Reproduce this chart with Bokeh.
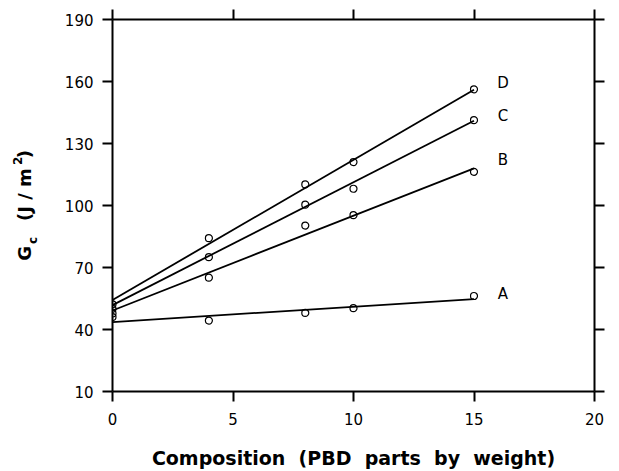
import math
from bokeh.plotting import figure
from bokeh.models import LinearAxis, FixedTicker, Label, Range1d
from bokeh.layouts import row
from bokeh.core.properties import value
from bokeh.embed import file_html
from bokeh.resources import INLINE

# ---- data ----
series = ["A", "B", "C", "D"]
x_vals = [0, 4, 8, 10, 15]
y_A = [46.0, 44.3, 48.0, 50.3, 56.2]
y_B = [47.8, 65.1, 90.3, 95.3, 116.3]
y_C = [50.0, 75.0, 100.4, 108.1, 141.3]
y_D = [52.2, 84.2, 110.2, 121.0, 156.2]
fit_x = [0, 15]
fit_A = [43.6, 54.7]
fit_B = [49.2, 118.0]
fit_C = [51.8, 141.0]
fit_D = [54.3, 156.0]
label_x = 16.2
label_y = {"A": 57.0, "B": 122.0, "C": 143.5, "D": 159.5}
x_ticks = [0, 5, 10, 15, 20]
y_ticks = [10, 40, 70, 100, 130, 160, 190]

ys = {"A": y_A, "B": y_B, "C": y_C, "D": y_D}
fits = {"A": fit_A, "B": fit_B, "C": fit_C, "D": fit_D}

FONT = "DejaVu Sans"
TITLE_W = 40
W, H = 619, 471
TOP, BOTTOM = 19, 79

p = figure(width=W - TITLE_W, height=H, output_backend="svg", toolbar_location=None,
           x_range=Range1d(0, 20), y_range=Range1d(10, 190),
           min_border_left=112 - TITLE_W, min_border_right=25, min_border_top=TOP,
           min_border_bottom=BOTTOM, x_axis_location=None, y_axis_location=None)
p.grid.visible = False
p.outline_line_color = None
p.background_fill_color = "white"
p.border_fill_color = "white"


def style_axis(ax, labels=True):
    ax.axis_line_width = 2
    ax.axis_line_color = "black"
    ax.major_tick_line_width = 2
    ax.major_tick_line_color = "black"
    ax.major_tick_out = 10
    ax.major_tick_in = 0
    ax.minor_tick_line_color = None
    ax.major_label_text_font = FONT
    ax.major_label_text_font_size = "15px"
    ax.major_label_text_color = "black"
    if not labels:
        ax.major_label_text_color = None
        ax.major_label_standoff = 0


xb = LinearAxis(ticker=FixedTicker(ticks=x_ticks))
style_axis(xb)
xb.major_label_standoff = 11
xb.axis_label = "Composition\u00a0 (PBD\u00a0 parts\u00a0 by\u00a0 weight)"
xb.axis_label_text_font = FONT
xb.axis_label_text_font_style = "bold"
xb.axis_label_text_font_size = "19px"
xb.axis_label_text_color = "black"
xb.axis_label_standoff = 19
p.add_layout(xb, "below")

yl = LinearAxis(ticker=FixedTicker(ticks=y_ticks))
style_axis(yl)
yl.major_label_standoff = 9
p.add_layout(yl, "left")

xt = LinearAxis(ticker=FixedTicker(ticks=x_ticks))
style_axis(xt, labels=False)
p.add_layout(xt, "above")

yr = LinearAxis(ticker=FixedTicker(ticks=y_ticks))
style_axis(yr, labels=False)
p.add_layout(yr, "right")

for s in series:
    p.line(fit_x, fits[s], line_color="black", line_width=1.8)
    p.scatter(x_vals, ys[s], marker="circle", size=7, fill_color=None,
              line_color="black", line_width=1.2)
    p.add_layout(Label(x=label_x, y=label_y[s], text=s, text_font=FONT,
                       text_font_size="15px", text_align="center",
                       text_baseline="middle", text_color="black"))

# ---- y axis title panel: G with subscript c, (J/m) with superscript 2 ----
t = figure(width=TITLE_W, height=H, output_backend="svg", toolbar_location=None,
           x_range=Range1d(0, TITLE_W), y_range=Range1d(BOTTOM, H - TOP),
           min_border_left=0, min_border_right=0, min_border_top=TOP,
           min_border_bottom=BOTTOM, x_axis_location=None, y_axis_location=None)
t.grid.visible = False
t.outline_line_color = None
t.background_fill_color = "white"
t.border_fill_color = "white"

ang = math.pi / 2
pieces = [
    ("G", 24, 261, "18px"),
    ("c", 32, 244, "12px"),
    ("(J / m", 24, 221, "18px"),
    ("2", 17, 165, "12px"),
    (")", 24, 158, "18px"),
]
for txt, sx, sy, fs in pieces:
    t.text(x=[sx], y=[H - sy], text=[txt], angle=ang, text_font=value(FONT),
           text_font_style="bold", text_font_size=fs, text_align="left",
           text_baseline="alphabetic", text_color="black")

layout = row(t, p, spacing=0)
open("out.html", "w").write(file_html(layout, INLINE))
